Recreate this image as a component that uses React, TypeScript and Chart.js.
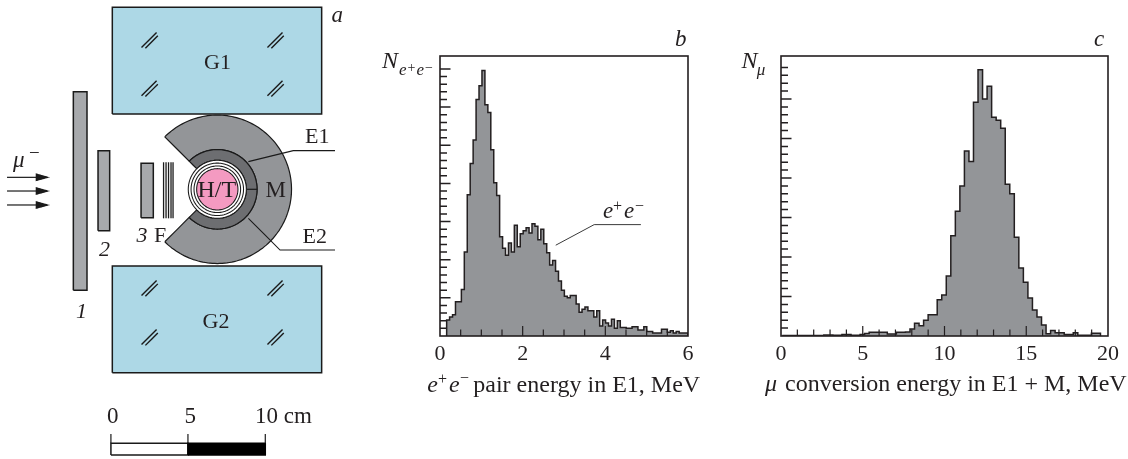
import React, { useEffect, useRef } from "react";
import { Chart, registerables } from "chart.js";

Chart.register(...registerables);

const PAGE_W = 1128;
const PAGE_H = 459;
const SERIF = "'Liberation Serif', serif";
const INK = "#231f20";

// ---- Panel b: e+e- pair energy spectrum (counts, arbitrary units)
const pairBinStart = 0.161;
const pairBinWidth = 0.0712;
const pairCounts = [
  21, 25, 28, 45, 45, 61, 110, 185, 226, 257, 310, 328, 348, 303, 293, 244, 201, 184,
  130, 115, 106, 122, 110, 145, 117, 134, 138, 142, 135, 147, 144, 126, 140, 121, 109,
  93, 99, 85, 72, 60, 52, 50, 53, 53, 42, 31, 35, 38, 33, 33, 25, 33, 13, 21, 17, 13,
  22, 10, 20, 11, 11, 10, 10, 12, 12, 8, 8, 12, 6, 6, 4, 4, 4, 9, 9, 5, 7, 4, 6, 4, 4, 4,
];
const pairLeader = [
  { x: 2.8, y: 119 },
  { x: 3.73, y: 146 },
  { x: 4.86, y: 146 },
];

// ---- Panel c: muon conversion energy spectrum (counts, arbitrary units)
const muBinStart = 0.122;
const muBinWidth = 0.2774;
const muCounts = [
  0.6, 0.6, 0.6, 0.6, 0.6, 0.6, 0.6, 0.6, 0.6, 1.3, 1.3, 0.9, 0.9, 1.9, 1.9, 0.9, 0.9, 1.9,
  3.2, 4.7, 4.7, 4.7, 4.7, 2.5, 2.5, 4.7, 4.7, 5, 9, 16, 13, 20, 27, 27, 46, 52, 76, 127,
  158, 190, 234, 221, 296, 337, 300, 316, 277, 273, 263, 192, 180, 125, 86, 68, 48, 33, 24,
  14, 3, 7, 4, 4, 2, 2, 4, 1, 1, 1, 3.4, 3.4,
];

// ---- Panel a: detector geometry, in cm from the centre of the target
const G1 = [-6.76, 6.72, 4.85, 11.72];
const G2 = [-6.76, 6.72, -11.81, -4.94];
const absorber1 = [-9.27, -8.39, -6.5, 6.28];
const absorber2 = [-7.68, -6.93, -2.67, 2.49];
const absorber3 = [-4.91, -4.12, -1.83, 1.67];
const foilsX = [-3.46, -3.3, -3.14, -2.98, -2.85];
const foilsY = [-1.87, 1.74];
const hatchCentres = [
  [-4.33, 9.55], [3.78, 9.55], [-4.33, 6.44], [3.78, 6.44],
  [-4.33, -6.42], [3.78, -6.42], [-4.33, -9.58], [3.78, -9.58],
];
const rM = 4.78;
const rE = 2.56;
const ringRadii = [1.87, 1.69, 1.5];
const rTarget = 1.33;
const wedgeDeg = 135;
const arrowRows = [0.77, -0.11, -1.01];
const e1Leader = [[2.0, 1.78], [4.89, 2.49], [7.58, 2.49]];
const e2Leader = [[2.0, -1.87], [4.04, -3.91], [7.58, -3.91]];
const barX = [-6.85, -1.89, 3.09];
const barY = [-17.11, -16.36, -15.76];

type Item = { t: string; x: number; y: number; size?: number; italic?: boolean };

const textA: Item[] = [
  { t: "G1", x: 204, y: 69, size: 22 },
  { t: "G2", x: 202.5, y: 327.7, size: 22 },
  { t: "a", x: 331.5, y: 21.7, size: 23, italic: true },
  { t: "E1", x: 305, y: 143.3, size: 22 },
  { t: "E2", x: 302.5, y: 243.3, size: 22 },
  { t: "M", x: 265.5, y: 196.7, size: 23 },
  { t: "H/T", x: 197.5, y: 197, size: 24 },
  { t: "3", x: 136.5, y: 241.5, size: 22, italic: true },
  { t: "F", x: 154, y: 241.5, size: 22 },
  { t: "2", x: 99, y: 255.7, size: 22, italic: true },
  { t: "1", x: 76, y: 318, size: 22, italic: true },
  { t: "μ", x: 13, y: 166.7, size: 23, italic: true },
  { t: "−", x: 29, y: 159, size: 19 },
  { t: "0", x: 107, y: 423.3, size: 23 },
  { t: "5", x: 184.5, y: 423.3, size: 23 },
  { t: "10 cm", x: 255, y: 423.3, size: 23 },
];

const textB: Item[] = [
  { t: "N", x: 382, y: 68.3, size: 24, italic: true },
  { t: "e", x: 399, y: 75, size: 17, italic: true },
  { t: "+", x: 407.5, y: 72, size: 14 },
  { t: "e", x: 416.5, y: 75, size: 17, italic: true },
  { t: "−", x: 425, y: 72, size: 14 },
  { t: "b", x: 675, y: 46, size: 23, italic: true },
  { t: "e", x: 603, y: 218, size: 23, italic: true },
  { t: "+", x: 613, y: 211, size: 16 },
  { t: "e", x: 624, y: 218, size: 23, italic: true },
  { t: "−", x: 635, y: 211, size: 16 },
  { t: "e", x: 427.3, y: 391.7, size: 24, italic: true },
  { t: "+", x: 438, y: 384, size: 16 },
  { t: "e", x: 449, y: 391.7, size: 24, italic: true },
  { t: "−", x: 460, y: 383, size: 16 },
  { t: "pair energy in E1, MeV", x: 473.3, y: 391.7, size: 24 },
];

const textC: Item[] = [
  { t: "N", x: 741.5, y: 68.3, size: 24, italic: true },
  { t: "μ", x: 756.7, y: 75, size: 17, italic: true },
  { t: "c", x: 1094, y: 46, size: 23, italic: true },
  { t: "μ", x: 765, y: 391, size: 24, italic: true },
  { t: "conversion energy in E1 + M, MeV", x: 785, y: 391, size: 24 },
];

function drawItems(chart: any, items: Item[]) {
  const ctx = chart.ctx;
  ctx.save();
  ctx.fillStyle = INK;
  ctx.textBaseline = "alphabetic";
  ctx.textAlign = "left";
  for (const it of items) {
    ctx.font = `${it.italic ? "italic " : ""}${it.size ?? 21}px ${SERIF}`;
    ctx.fillText(it.t, it.x, it.y);
  }
  ctx.restore();
}

function histogram(start: number, width: number, counts: number[]) {
  const end = start + counts.length * width;
  const pts = [{ x: start, y: 0 }];
  counts.forEach((c, i) => pts.push({ x: start + i * width, y: c }));
  pts.push({ x: end, y: counts[counts.length - 1] });
  pts.push({ x: end, y: 0 });
  return pts;
}

function framePlugin(items: Item[], xMajor: number) {
  return {
    id: "frame",
    afterDatasetsDraw(chart: any) {
      const { ctx, chartArea: a, scales } = chart;
      ctx.save();
      ctx.strokeStyle = INK;
      ctx.lineWidth = 1.5;
      ctx.beginPath();
      for (const t of scales.y.ticks) {
        if (t.value <= 0 || Math.round(t.value) % 10 !== 0) continue;
        const py = scales.y.getPixelForValue(t.value);
        const len = Math.round(t.value) % 50 === 0 ? 10.5 : 7;
        ctx.moveTo(a.left, py);
        ctx.lineTo(a.left + len, py);
      }
      ctx.stroke();
      ctx.lineWidth = 1.2;
      ctx.beginPath();
      for (const t of scales.x.ticks) {
        if (t.value <= scales.x.min || t.value >= scales.x.max) continue;
        const px = scales.x.getPixelForValue(t.value);
        const len = Math.abs(t.value / xMajor - Math.round(t.value / xMajor)) < 1e-6 ? 10 : 6.5;
        ctx.moveTo(px, a.bottom);
        ctx.lineTo(px, a.bottom - len);
      }
      ctx.stroke();
      ctx.lineWidth = 1.6;
      ctx.strokeRect(a.left, a.top, a.right - a.left, a.bottom - a.top);
      ctx.restore();
      drawItems(chart, items);
    },
  };
}

function histConfig(opts: {
  box: [number, number];
  xMax: number;
  xStep: number;
  xMajor: number;
  yMax: number;
  datasets: any[];
  items: Item[];
}) {
  const top = 56;
  const bottom = 336;
  const axisH = 60;
  return {
    type: "line",
    data: { datasets: opts.datasets },
    options: {
      animation: false,
      responsive: false,
      events: [],
      layout: {
        padding: {
          left: opts.box[0],
          right: PAGE_W - opts.box[1],
          top,
          bottom: PAGE_H - bottom - axisH,
        },
      },
      plugins: { legend: { display: false }, tooltip: { enabled: false } },
      scales: {
        x: {
          type: "linear",
          min: 0,
          max: opts.xMax,
          afterFit: (s: any) => {
            s.height = axisH;
          },
          grid: { display: false },
          border: { display: false },
          ticks: {
            stepSize: opts.xStep,
            autoSkip: false,
            maxRotation: 0,
            padding: -3,
            color: INK,
            font: { family: SERIF, size: 22 },
            callback: (v: number) =>
              Math.abs(v / opts.xMajor - Math.round(v / opts.xMajor)) < 1e-6 ? String(v) : "",
          },
        },
        y: {
          type: "linear",
          min: 0,
          max: opts.yMax,
          afterFit: (s: any) => {
            s.width = 0;
          },
          grid: { display: false },
          border: { display: false },
          ticks: { stepSize: 10, display: false, autoSkip: false },
        },
      },
    },
    plugins: [framePlugin(opts.items, opts.xMajor)],
  };
}

function histDataset(data: { x: number; y: number }[]) {
  return {
    data,
    stepped: "before",
    fill: "origin",
    backgroundColor: "#939598",
    borderColor: INK,
    borderWidth: 1.5,
    pointRadius: 0,
    borderJoinStyle: "miter",
  };
}

// ---- helpers for the schematic
type P = [number, number];
const rect = (r: number[]): P[] => [
  [r[0], r[2]], [r[1], r[2]], [r[1], r[3]], [r[0], r[3]], [r[0], r[2]],
];
const arc = (r: number, from: number, to: number, n = 72): P[] => {
  const out: P[] = [];
  for (let i = 0; i <= n; i++) {
    const a = ((from + ((to - from) * i) / n) * Math.PI) / 180;
    out.push([r * Math.cos(a), r * Math.sin(a)]);
  }
  return out;
};
const sector = (ro: number, ri: number, deg: number): P[] => {
  const pts = [...arc(ro, -deg, deg), ...arc(ri, deg, -deg)];
  pts.push(pts[0]);
  return pts;
};

function shape(pts: P[], fill: string | null, stroke: string | null, width = 1.4) {
  return { pts, fill, stroke, width };
}

function schematicDatasets() {
  const s: ReturnType<typeof shape>[] = [];
  const BLUE = "#add8e6";
  const GREY = "#a7a9ac";
  const DARK = "#6d6e71";
  const LINE = "#1a1a1a";
  s.push(shape(rect(G1), BLUE, LINE, 1.5));
  s.push(shape(rect(G2), BLUE, LINE, 1.5));
  for (const [cx, cy] of hatchCentres) {
    s.push(shape([[cx - 0.55, cy - 0.42], [cx + 0.42, cy + 0.55]], null, LINE, 1.4));
    s.push(shape([[cx - 0.3, cy - 0.47], [cx + 0.5, cy + 0.33]], null, LINE, 1.4));
  }
  s.push(shape(rect(absorber1), GREY, LINE, 1.5));
  s.push(shape(rect(absorber2), GREY, LINE, 1.5));
  s.push(shape(rect(absorber3), GREY, LINE, 1.5));
  for (const x of foilsX) s.push(shape([[x, foilsY[0]], [x, foilsY[1]]], null, LINE, 1.3));
  s.push(shape(sector(rM, rE, wedgeDeg), "#939598", LINE, 1.2));
  s.push(shape(sector(rE, ringRadii[0], wedgeDeg), DARK, LINE, 1.2));
  s.push(shape([[ringRadii[0], 0], [rE, 0]], null, LINE, 1.2));
  s.push(shape(e1Leader as P[], null, LINE, 1.1));
  s.push(shape(e2Leader as P[], null, LINE, 1.1));
  for (const r of ringRadii) s.push(shape(arc(r, 0, 360), "#ffffff", LINE, 1.05));
  s.push(shape(arc(rTarget, 0, 360), "#f49ac1", LINE, 1.05));
  for (const y of arrowRows) {
    s.push(shape([[-13.54, y], [-11.5, y]], null, LINE, 1.2));
    s.push(shape([[-11.69, y + 0.26], [-10.77, y], [-11.69, y - 0.26], [-11.69, y + 0.26]], LINE, null));
  }
  s.push(shape(rect([barX[0], barX[1], barY[0], barY[1]]), "#ffffff", LINE, 1.5));
  s.push(shape(rect([barX[1], barX[2], barY[0], barY[1]]), "#000000", "#000000", 1.5));
  for (const x of barX) s.push(shape([[x, barY[1]], [x, barY[2]]], null, LINE, 1.2));

  return s.map((d, i) => ({
    data: d.pts.map(([x, y]) => ({ x, y })),
    fill: d.fill ? "shape" : false,
    backgroundColor: d.fill ?? "transparent",
    borderColor: d.stroke ?? "transparent",
    borderWidth: d.stroke ? d.width : 0,
    pointRadius: 0,
    tension: 0.0001,
    capBezierPoints: false,
    borderCapStyle: "butt",
    borderJoinStyle: "miter",
    order: -i,
  }));
}

function schematicConfig() {
  const pxPerCm = 15.53;
  const cx = 217.3;
  const cy = 189.3;
  return {
    type: "line",
    data: { datasets: schematicDatasets() },
    options: {
      animation: false,
      responsive: false,
      events: [],
      plugins: { legend: { display: false }, tooltip: { enabled: false } },
      scales: {
        x: { type: "linear", display: false, min: -cx / pxPerCm, max: (PAGE_W - cx) / pxPerCm },
        y: { type: "linear", display: false, min: (cy - PAGE_H) / pxPerCm, max: cy / pxPerCm },
      },
    },
    plugins: [
      {
        id: "labels",
        afterDatasetsDraw(chart: any) {
          drawItems(chart, textA);
        },
      },
    ],
  };
}

const canvasStyle: React.CSSProperties = { position: "absolute", left: 0, top: 0 };

export default function App() {
  const a = useRef<HTMLCanvasElement>(null);
  const b = useRef<HTMLCanvasElement>(null);
  const c = useRef<HTMLCanvasElement>(null);

  useEffect(() => {
    const charts = [
      new Chart(a.current as any, schematicConfig() as any),
      new Chart(
        b.current as any,
        histConfig({
          box: [440, 688],
          xMax: 6,
          xStep: 0.5,
          xMajor: 2,
          yMax: 367,
          items: textB,
          datasets: [
            histDataset(histogram(pairBinStart, pairBinWidth, pairCounts)),
            {
              data: pairLeader,
              borderColor: "#3a3a3a",
              borderWidth: 1,
              pointRadius: 0,
              fill: false,
            },
          ],
        }) as any
      ),
      new Chart(
        c.current as any,
        histConfig({
          box: [781, 1108],
          xMax: 20,
          xStep: 1,
          xMajor: 5,
          yMax: 354.4,
          items: textC,
          datasets: [histDataset(histogram(muBinStart, muBinWidth, muCounts))],
        }) as any
      ),
    ];
    return () => charts.forEach((ch) => ch.destroy());
  }, []);

  return (
    <div style={{ position: "absolute", left: 0, top: 0, width: PAGE_W, height: PAGE_H, background: "#fff", overflow: "hidden" }}>
      <canvas ref={a} width={PAGE_W} height={PAGE_H} style={canvasStyle} />
      <canvas ref={b} width={PAGE_W} height={PAGE_H} style={canvasStyle} />
      <canvas ref={c} width={PAGE_W} height={PAGE_H} style={canvasStyle} />
    </div>
  );
}
